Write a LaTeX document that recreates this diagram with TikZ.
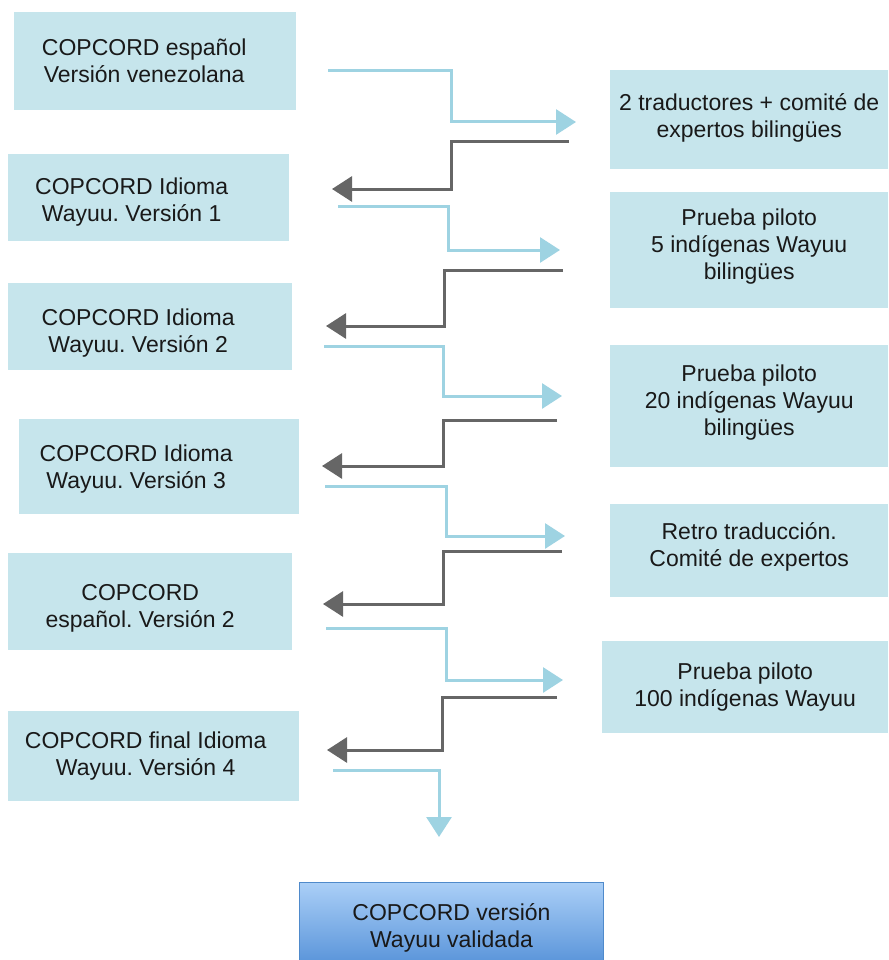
\documentclass[tikz,border=0pt]{standalone}
\usepackage{fontspec}
\setmainfont{Liberation Sans}
\usetikzlibrary{arrows.meta}
\definecolor{boxfill}{HTML}{C6E5EC}
\definecolor{fwdc}{HTML}{9ED3E2}
\definecolor{backc}{HTML}{666666}
\definecolor{gtop}{HTML}{AACFF7}
\definecolor{gbot}{HTML}{5A95DA}
\definecolor{gborder}{HTML}{4F8ACB}
\frenchspacing
\begin{document}
\begin{tikzpicture}[x=1pt,y=-1pt,
  box/.style={fill=boxfill, draw=none, inner sep=0pt, anchor=north west},
  txt/.style={align=center, font=\fontsize{23}{27}\selectfont, inner sep=0pt, text=black!90},
  fwd/.style={draw=fwdc, line width=3pt, -{Triangle[length=20pt,width=25pt]}},
  back/.style={draw=backc, line width=3pt, -{Triangle[length=20pt,width=25pt]}}]
\useasboundingbox (0,0) rectangle (888,960);
% left boxes
\node[box, minimum width=282pt, minimum height=98pt] (L0) at (14,12) {};
\node[box, minimum width=281pt, minimum height=87pt] (L1) at (8,154) {};
\node[box, minimum width=284pt, minimum height=87pt] (L2) at (8,283) {};
\node[box, minimum width=280pt, minimum height=95pt] (L3) at (19,419) {};
\node[box, minimum width=284pt, minimum height=97pt] (L4) at (8,553) {};
\node[box, minimum width=291pt, minimum height=90pt] (L5) at (8,711) {};
% right boxes
\node[box, minimum width=278pt, minimum height=99pt] (R0) at (610,70) {};
\node[box, minimum width=278pt, minimum height=116pt] (R1) at (610,192) {};
\node[box, minimum width=278pt, minimum height=122pt] (R2) at (610,345) {};
\node[box, minimum width=278pt, minimum height=93pt] (R3) at (610,504) {};
\node[box, minimum width=286pt, minimum height=92pt] (R4) at (602,641) {};
% final box
\node[box, draw=gborder, line width=1pt, top color=gtop, bottom color=gbot, minimum width=304pt, minimum height=80pt] (F) at (299,882) {};
% texts
\node[txt, xshift=-11pt] (tL0) at (L0.center) {COPCORD español\\Versión venezolana};
\node[txt, xshift=-17pt, yshift=-4pt] (tL1) at (L1.center) {COPCORD Idioma\\Wayuu. Versión 1};
\node[txt, xshift=-12pt, yshift=-6pt] (tL2) at (L2.center) {COPCORD Idioma\\Wayuu. Versión 2};
\node[txt, xshift=-23pt, yshift=-2pt] (tL3) at (L3.center) {COPCORD Idioma\\Wayuu. Versión 3};
\node[txt, xshift=-10pt, yshift=-7pt] (tL4) at (L4.center) {COPCORD\\español. Versión 2};
\node[txt, xshift=-8pt] (tL5) at (L5.center) {COPCORD final Idioma\\Wayuu. Versión 4};
\node[txt, yshift=2pt] (tR0) at (R0.center) {2 traductores + comité de\\expertos bilingües};
\node[txt, yshift=4pt] (tR1) at (R1.center) {Prueba piloto\\5 indígenas Wayuu\\bilingües};
\node[txt, yshift=4pt] (tR2) at (R2.center) {Prueba piloto\\20 indígenas Wayuu\\bilingües};
\node[txt, yshift=4pt] (tR3) at (R3.center) {Retro traducción.\\Comité de expertos};
\node[txt] (tR4) at (R4.center) {Prueba piloto\\100 indígenas Wayuu};
\node[txt, yshift=-5pt] (tF) at (F.center) {COPCORD versión\\Wayuu validada};
% connector coordinates
\coordinate (a1s) at (328,71);  \coordinate (a1m) at (451,122); \coordinate (a1e) at (576,122);
\coordinate (g1s) at (569,142); \coordinate (g1m) at (451,189); \coordinate (g1e) at (332,189);
\coordinate (a2s) at (338,206); \coordinate (a2m) at (448,250); \coordinate (a2e) at (560,250);
\coordinate (g2s) at (563,270); \coordinate (g2m) at (444,326); \coordinate (g2e) at (326,326);
\coordinate (a3s) at (324,346); \coordinate (a3m) at (443,396); \coordinate (a3e) at (562,396);
\coordinate (g3s) at (557,420); \coordinate (g3m) at (443,466); \coordinate (g3e) at (322,466);
\coordinate (a4s) at (325,486); \coordinate (a4m) at (446,536); \coordinate (a4e) at (565,536);
\coordinate (g4s) at (562,551); \coordinate (g4m) at (443,604); \coordinate (g4e) at (323,604);
\coordinate (a5s) at (326,628); \coordinate (a5m) at (446,680); \coordinate (a5e) at (563,680);
\coordinate (g5s) at (557,697); \coordinate (g5m) at (442,750); \coordinate (g5e) at (327,750);
\coordinate (a6s) at (333,770); \coordinate (a6e) at (439,837);
% connectors
\draw[fwd] (a1s) -| (a1m) -- (a1e);
\draw[back] (g1s) -| (g1m) -- (g1e);
\draw[fwd] (a2s) -| (a2m) -- (a2e);
\draw[back] (g2s) -| (g2m) -- (g2e);
\draw[fwd] (a3s) -| (a3m) -- (a3e);
\draw[back] (g3s) -| (g3m) -- (g3e);
\draw[fwd] (a4s) -| (a4m) -- (a4e);
\draw[back] (g4s) -| (g4m) -- (g4e);
\draw[fwd] (a5s) -| (a5m) -- (a5e);
\draw[back] (g5s) -| (g5m) -- (g5e);
\draw[fwd] (a6s) -| (a6e);
\end{tikzpicture}
\end{document}
